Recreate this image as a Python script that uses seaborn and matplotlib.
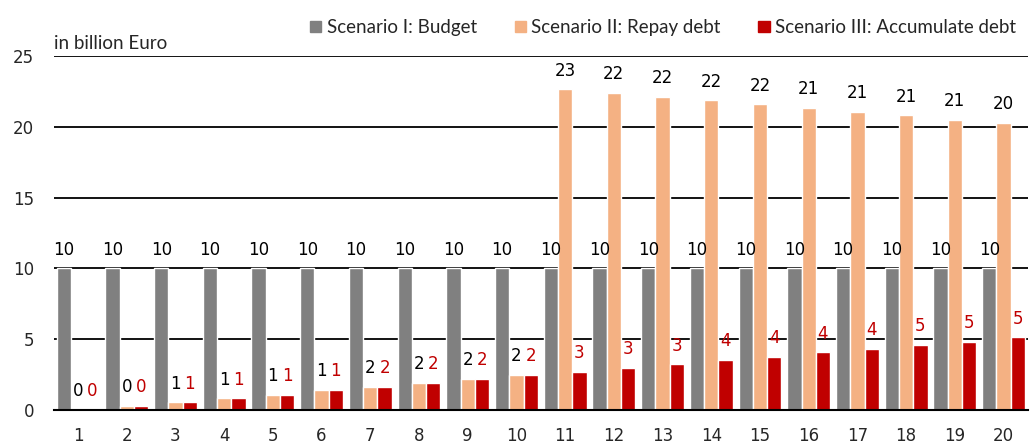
import matplotlib
matplotlib.use('Agg')
import matplotlib.pyplot as plt
import seaborn as sns
import pandas as pd

# values (billion Euro)
years = list(range(1, 21))
budget = [10] * 20
repay_debt = [0.0, 0.28, 0.54, 0.82, 1.08, 1.39, 1.65, 1.92, 2.18, 2.45,
              22.66, 22.42, 22.14, 21.88, 21.60, 21.34, 21.06, 20.82, 20.52, 20.28]
accumulate_debt = [0.0, 0.28, 0.54, 0.82, 1.08, 1.39, 1.65, 1.92, 2.18, 2.45,
                   2.68, 2.99, 3.22, 3.53, 3.76, 4.07, 4.31, 4.59, 4.82, 5.13]
scenarios = ['Scenario I: Budget', 'Scenario II: Repay debt', 'Scenario III: Accumulate debt']
colors = ['#808080', '#F4B183', '#C00000']
label_colors = ['black', 'black', '#C00000']

df = pd.DataFrame({
    'year': years * 3,
    'value': budget + repay_debt + accumulate_debt,
    'scenario': [s for s in scenarios for _ in years],
})

sns.set_style('white')
plt.rcParams['font.family'] = ['DejaVu Sans']

fig = plt.figure(figsize=(10.33, 4.46), dpi=100)
ax = fig.add_axes([0.052, 0.081, 0.943, 0.793])

sns.barplot(data=df, x='year', y='value', hue='scenario', palette=colors,
            width=0.88, saturation=1, ax=ax, legend=False)

# data labels, rounded like the original
for cont, lc in zip(ax.containers, label_colors):
    ax.bar_label(cont, fmt='%.0f', padding=7, color=lc, fontsize=12)

ax.set_ylim(0, 25)
ax.set_xlim(-0.5, 19.5)
ax.set_yticks([0, 5, 10, 15, 20, 25])
ax.yaxis.grid(True, color='black', linewidth=1.3)
ax.set_axisbelow(True)
ax.tick_params(axis='y', length=0, labelsize=12, pad=14)
ax.tick_params(axis='x', which='major', length=0, labelsize=12, pad=12)
ax.set_xticks([i - 0.5 for i in range(21)], minor=True)
ax.tick_params(axis='x', which='minor', length=6, width=1.3, color='black', direction='out')
ax.set_xlabel('')
ax.set_ylabel('')
for side in ['top', 'right', 'left']:
    ax.spines[side].set_visible(False)
ax.spines['bottom'].set_color('black')
ax.spines['bottom'].set_linewidth(1.5)

ax.text(0.0, 1.012, 'in billion Euro', transform=ax.transAxes, ha='left', va='bottom',
        fontsize=13.5, family='Lato')

handles = [plt.Rectangle((0, 0), 1, 1, color=c) for c in colors]
fig.legend(handles, scenarios, loc='upper right', bbox_to_anchor=(1.0, 0.995), ncol=3,
           frameon=False, prop={'family': 'Lato', 'size': 13.5}, handlelength=0.6,
           handleheight=0.6, handletextpad=0.3, columnspacing=2.0)

fig.savefig('out.png', dpi=100)
